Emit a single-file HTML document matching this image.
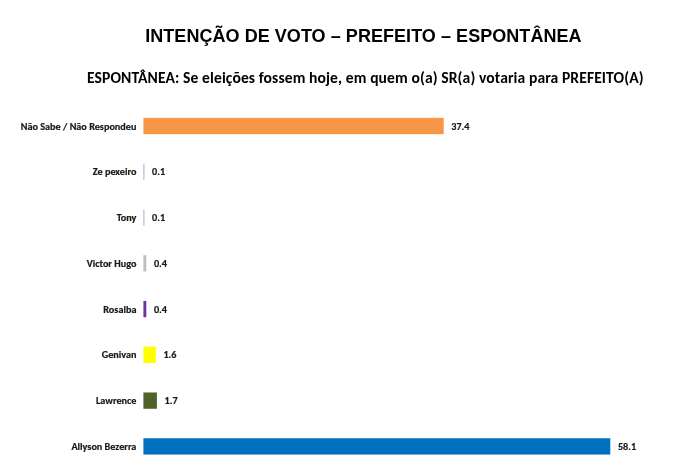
<!DOCTYPE html>
<html><head><meta charset="utf-8">
<style>
html,body{margin:0;padding:0;background:#fff;}
body{width:696px;height:470px;position:relative;overflow:hidden;}
#w{position:absolute;left:0;top:0;width:696px;height:470px;filter:blur(0.4px);}
.t{position:absolute;white-space:nowrap;color:#000;}
#title{left:145.2px;top:26px;font:bold 18px "Liberation Sans",Arial,sans-serif;letter-spacing:0.05px;}
#sub{left:87px;top:68.4px;font:bold 15.6px Carlito,"Liberation Sans",sans-serif;letter-spacing:0.1px;}
.lab{-webkit-text-stroke:0.2px #111;position:absolute;right:559.6px;font:bold 10.2px Carlito,"Liberation Sans",sans-serif;color:#1a1a1a;white-space:nowrap;line-height:12px;}
.val{-webkit-text-stroke:0.2px #111;position:absolute;font:bold 10.2px Carlito,"Liberation Sans",sans-serif;color:#1a1a1a;white-space:nowrap;line-height:12px;}
svg{position:absolute;left:0;top:0;}
</style></head><body><div id="w">
<div class="t" id="title">INTENÇÃO DE VOTO – PREFEITO – ESPONTÂNEA</div>
<div class="t" id="sub">ESPONTÂNEA: Se eleições fossem hoje, em quem o(a) SR(a) votaria para PREFEITO(A)</div>
<svg width="696" height="470" viewBox="0 0 696 470">
<rect x="143.4" y="117.85" width="300.30" height="16.3" fill="#F79646"/>
<rect x="143.4" y="163.62" width="1.00" height="16.3" fill="#95B3D7"/>
<rect x="143.4" y="209.39" width="1.00" height="16.3" fill="#95B3D7"/>
<rect x="143.4" y="255.16" width="2.90" height="16.3" fill="#BFBFBF"/>
<rect x="143.4" y="300.93" width="2.90" height="16.3" fill="#7030A0"/>
<rect x="143.4" y="346.70" width="12.40" height="16.3" fill="#FFFF00"/>
<rect x="143.4" y="392.47" width="13.50" height="16.3" fill="#4F6228"/>
<rect x="143.4" y="438.24" width="466.90" height="16.3" fill="#0070C0"/>
</svg>
<div class="lab" style="top:121.00px">Não Sabe / Não Respondeu</div>
<div class="val" style="top:121.00px;left:451.30px">37.4</div>
<div class="lab" style="top:166.00px">Ze pexeiro</div>
<div class="val" style="top:166.00px;left:152.00px">0.1</div>
<div class="lab" style="top:212.00px">Tony</div>
<div class="val" style="top:212.00px;left:152.00px">0.1</div>
<div class="lab" style="top:258.00px">Victor Hugo</div>
<div class="val" style="top:258.00px;left:153.90px">0.4</div>
<div class="lab" style="top:304.00px">Rosalba</div>
<div class="val" style="top:304.00px;left:153.90px">0.4</div>
<div class="lab" style="top:349.00px">Genivan</div>
<div class="val" style="top:349.00px;left:163.40px">1.6</div>
<div class="lab" style="top:395.00px">Lawrence</div>
<div class="val" style="top:395.00px;left:164.50px">1.7</div>
<div class="lab" style="top:441.00px">Allyson Bezerra</div>
<div class="val" style="top:441.00px;left:617.90px">58.1</div>
</div></body></html>
